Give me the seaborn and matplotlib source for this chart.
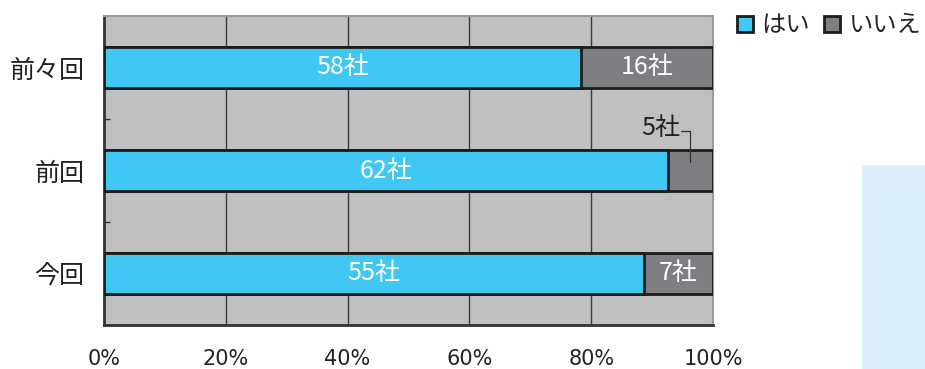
import matplotlib
matplotlib.use("Agg")
import matplotlib.pyplot as plt
from matplotlib.patches import Patch, Rectangle
import seaborn as sns
import pandas as pd

# Survey answers per round
rounds = ["前々回", "前回", "今回"]
yes_counts = [58, 62, 55]
no_counts = [16, 5, 7]
x_ticks = [0, 20, 40, 60, 80, 100]
x_tick_labels = ["0%", "20%", "40%", "60%", "80%", "100%"]
legend_labels = ["はい", "いいえ"]

YES_COLOR = "#40c7f3"
NO_COLOR = "#7e7f83"
BG_COLOR = "#c0c0c0"
EDGE = "#1c1c1c"

sns.set_theme(style="white")
plt.rcParams["font.family"] = ["Noto Sans CJK JP", "DejaVu Sans"]

totals = [y + n for y, n in zip(yes_counts, no_counts)]
df = pd.DataFrame({
    "round": rounds,
    "yes_pct": [y / t * 100 for y, t in zip(yes_counts, totals)],
    "total_pct": [100.0] * len(rounds),
})

fig = plt.figure(figsize=(9.25, 3.69), dpi=100)
ax = fig.add_axes([104 / 925, 1 - 325 / 369, (713 - 104) / 925, (325 - 16) / 369])
ax.set_facecolor(BG_COLOR)

# Full bar in the "no" colour, then the "yes" share on top of it
sns.barplot(data=df, x="total_pct", y="round", orient="h", color=NO_COLOR,
            width=0.4, edgecolor=EDGE, linewidth=2, saturation=1, ax=ax, zorder=3)
sns.barplot(data=df, x="yes_pct", y="round", orient="h", color=YES_COLOR,
            width=0.4, edgecolor=EDGE, linewidth=2, saturation=1, ax=ax, zorder=4)

ax.set_xlim(0, 100)
ax.set_ylim(2.5, -0.5)
ax.set_xlabel("")
ax.set_ylabel("")

# Vertical grid at every 20%
for v in x_ticks[1:-1]:
    ax.axvline(v, color="#3a3a3a", lw=1, zorder=1)

ax.set_xticks(x_ticks)
ax.set_xticklabels(x_tick_labels, fontsize=15,
                   family=["Liberation Sans Narrow", "DejaVu Sans"], color="#222222")
ax.tick_params(axis="x", length=0, pad=17)
ax.set_yticks(range(len(rounds)))
ax.set_yticklabels(rounds, fontsize=18, color="#222222")
ax.tick_params(axis="y", which="major", length=0, pad=14)
ax.set_yticks([0.5, 1.5], minor=True)
ax.tick_params(axis="y", which="minor", length=4, width=1, direction="in",
               color="#333333", left=True)

for side in ("left", "bottom"):
    ax.spines[side].set_color("#333333")
    ax.spines[side].set_linewidth(2)
for side in ("top", "right"):
    ax.spines[side].set_color("#9a9a9a")
    ax.spines[side].set_linewidth(1.5)

# Value labels; a narrow segment gets its label above with a leader line
for i, (y, n, t) in enumerate(zip(yes_counts, no_counts, totals)):
    yp = y / t * 100
    nx = yp + (100 - yp) / 2
    ax.text(yp / 2, i, f"{y}社", color="white", fontsize=18,
            ha="center", va="center", zorder=6)
    if n / t * 100 > 8:
        ax.text(nx, i, f"{n}社", color="white", fontsize=18,
                ha="center", va="center", zorder=6)
    else:
        ax.text(nx - 1.6, i - 0.41, f"{n}社", color="#222222", fontsize=18,
                ha="right", va="center", zorder=6)
        ax.plot([nx - 1.5, nx, nx], [i - 0.385, i - 0.385, i - 0.08],
                color="#333333", lw=0.9, zorder=6)

handles = [Patch(facecolor=YES_COLOR, edgecolor=EDGE, linewidth=2),
           Patch(facecolor=NO_COLOR, edgecolor=EDGE, linewidth=2)]
fig.legend(handles, legend_labels, loc="upper right", bbox_to_anchor=(1.009, 1.0),
           ncol=2, frameon=False, fontsize=17.5, handlelength=0.65, handleheight=0.65,
           handletextpad=0.35, columnspacing=0.6, borderaxespad=0.1)

# Pale panel on the lower right
fig.patches.append(Rectangle((862 / 925, 0), (925 - 862) / 925, (369 - 165) / 369,
                             transform=fig.transFigure, facecolor="#daeffa",
                             edgecolor="none", zorder=0))

fig.savefig("out.png", dpi=100)
